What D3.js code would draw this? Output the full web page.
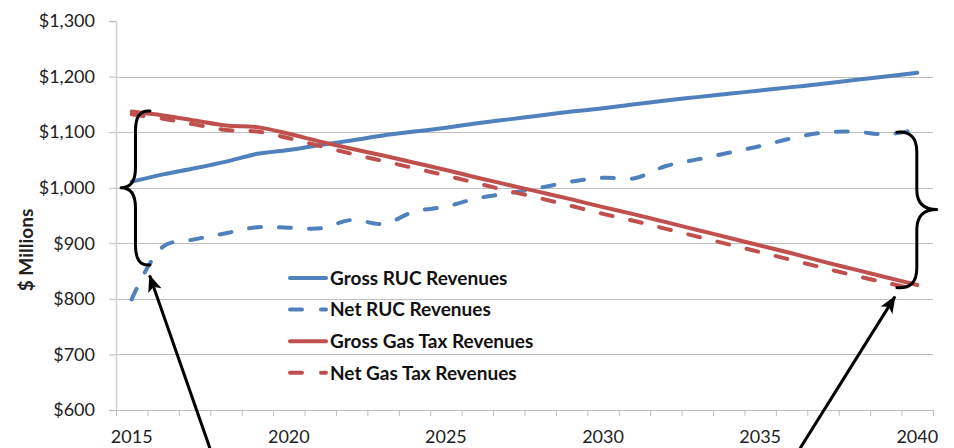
<!DOCTYPE html>
<html>
<head>
<meta charset="utf-8">
<script src="https://cdn.jsdelivr.net/npm/d3@7"></script>
<style>
    body { margin: 0; background: #fff; }
    svg { display: block; font-family: Lato, "Open Sans", sans-serif; }
</style>
</head>
<body>
<svg id="chart" width="954" height="448"></svg>
<script>
// data ($ millions)
const years = [2015, 2016, 2017, 2018, 2019, 2020, 2021, 2022, 2023, 2024, 2025, 2026, 2027,
    2028, 2029, 2030, 2031, 2032, 2033, 2034, 2035, 2036, 2037, 2038, 2039, 2040]
const grossRuc = [1011, 1024, 1035, 1047, 1061, 1068, 1077, 1085, 1094, 1101, 1108, 1116, 1123,
    1130, 1137, 1143, 1150, 1157, 1163, 1169, 1175, 1181, 1187, 1194, 1200, 1207]
const netRuc = [799, 894, 907, 918, 929, 928, 927, 942, 935, 957, 966, 981, 990,
    1000, 1011, 1018, 1017, 1039, 1051, 1063, 1075, 1089, 1099, 1101, 1096, 1105]
const grossGas = [1137, 1130, 1121, 1112, 1109, 1097, 1083, 1070, 1058, 1045, 1032, 1018, 1005,
    992, 979, 965, 952, 938, 924, 910, 896, 882, 867, 853, 839, 825]
const netGas = [1132, 1124, 1114, 1104, 1101, 1089, 1075, 1061, 1048, 1035, 1022, 1008, 994,
    981, 967, 953, 940, 926, 912, 898, 884, 870, 856, 842, 829, 817]

const seriesNames = ['Gross RUC Revenues', 'Net RUC Revenues', 'Gross Gas Tax Revenues', 'Net Gas Tax Revenues']
const yTicks = [600, 700, 800, 900, 1000, 1100, 1200, 1300]
const xLabels = [2015, 2020, 2025, 2030, 2035, 2040]

// annotations, in data units (year, $M)
const braces = [
    { end: 2015.58, tip: 2014.66, top: 1138, mid: 1000, bottom: 861 },
    { end: 2039.35, tip: 2040.62, top: 1100, mid: 961, bottom: 820 }
]
const arrows = [
    { from: [2017.49, 531], to: [2015.57, 842] },
    { from: [2036.27, 531], to: [2039.29, 804] }
]

const blue = '#4F81BD'
const red = '#C0504D'
const series = [
    { name: seriesNames[0], values: grossRuc, color: blue, dash: null },
    { name: seriesNames[1], values: netRuc, color: blue, dash: '12,18' },
    { name: seriesNames[2], values: grossGas, color: red, dash: null },
    { name: seriesNames[3], values: netGas, color: red, dash: '12,18' }
]

const x = d3.scaleLinear().domain([years[0] - 0.5, years[years.length - 1] + 0.5]).range([116, 933])
const y = d3.scaleLinear().domain([600, 1300]).range([410, 21])

const svg = d3.select('#chart')

// gridlines
svg.append('g')
    .selectAll('line')
    .data(yTicks.filter(d => d > 600 && d < 1300))
    .join('line')
    .attr('x1', x.range()[0]).attr('x2', x.range()[1])
    .attr('y1', d => Math.round(y(d)) + 0.5).attr('y2', d => Math.round(y(d)) + 0.5)
    .attr('stroke', '#BFBFBF')

// y axis
const yAxis = svg.append('g')
    .attr('transform', `translate(${x.range()[0]},0)`)
    .call(d3.axisLeft(y).tickValues(yTicks).tickSize(7).tickPadding(14).tickFormat(d3.format('$,')))
yAxis.select('.domain').attr('stroke', '#D0D0D0').attr('stroke-width', 1.5)
yAxis.selectAll('.tick line').attr('stroke', '#BFBFBF')
yAxis.selectAll('.tick text').attr('font-size', 18).attr('fill', '#222').attr('font-family', 'Lato, sans-serif')

// x axis: ticks between categories, labels every 5 years
const boundaries = years.map(d => d - 0.5).concat([years[years.length - 1] + 0.5])
const xAxis = svg.append('g')
    .attr('transform', `translate(0,${y(600)})`)
    .call(d3.axisBottom(x).tickValues(boundaries).tickSize(6).tickFormat(''))
xAxis.select('.domain').attr('stroke', '#BFBFBF')
xAxis.selectAll('.tick line').attr('stroke', '#BFBFBF')

svg.append('g')
    .selectAll('text')
    .data(xLabels)
    .join('text')
    .attr('x', d => x(d))
    .attr('y', 443)
    .attr('text-anchor', 'middle')
    .attr('font-size', 18)
    .attr('fill', '#222')
    .text(d => d)

// y title
svg.append('text')
    .attr('transform', 'translate(33,250) rotate(-90)')
    .attr('text-anchor', 'middle')
    .attr('font-size', 19)
    .attr('font-weight', 'bold')
    .attr('fill', '#222')
    .text('$ Millions')

// series lines
const line = d3.line()
    .x((d, i) => x(years[i]))
    .y(d => y(d))
    .curve(d3.curveCatmullRom.alpha(0.5))

svg.append('g')
    .selectAll('path')
    .data(series)
    .join('path')
    .attr('d', d => line(d.values))
    .attr('fill', 'none')
    .attr('stroke', d => d.color)
    .attr('stroke-width', 4)
    .attr('stroke-linecap', 'round')
    .attr('stroke-linejoin', 'round')
    .attr('stroke-dasharray', d => d.dash)

// legend
const legend = svg.append('g')
    .selectAll('g')
    .data(series)
    .join('g')
    .attr('transform', (d, i) => `translate(290,${278 + i * 31.6})`)

legend.append('line')
    .attr('x1', 0).attr('x2', 36)
    .attr('stroke', d => d.color)
    .attr('stroke-width', 4)
    .attr('stroke-linecap', 'round')
    .attr('stroke-dasharray', d => d.dash ? '12,19' : null)

legend.append('text')
    .attr('x', 40)
    .attr('dy', '0.36em')
    .attr('font-size', 19)
    .attr('font-weight', 'bold')
    .attr('fill', '#111')
    .text(d => d.name)

// braces
function bracePath(b) {
    const xe = x(b.end), xt = x(b.tip)
    const xs = (xe + xt) / 2
    const yt = y(b.top), ym = y(b.mid), yb = y(b.bottom)
    const r = 20
    return `M${xe},${yt} C${xs + (xe - xs) * 0.3},${yt - 1} ${xs},${yt + r * 0.3} ${xs},${yt + r}
        L${xs},${ym - r} C${xs},${ym - r * 0.35} ${xs + (xt - xs) * 0.3},${ym} ${xt},${ym}
        C${xs + (xt - xs) * 0.3},${ym} ${xs},${ym + r * 0.35} ${xs},${ym + r}
        L${xs},${yb - r} C${xs},${yb - r * 0.3} ${xs + (xe - xs) * 0.3},${yb + 1} ${xe},${yb}`
}

svg.append('g')
    .selectAll('path')
    .data(braces)
    .join('path')
    .attr('d', bracePath)
    .attr('fill', 'none')
    .attr('stroke', '#000')
    .attr('stroke-width', 3)
    .attr('stroke-linecap', 'round')
    .attr('stroke-linejoin', 'round')

// arrows
svg.append('defs').append('marker')
    .attr('id', 'arrowhead')
    .attr('viewBox', '0 -7 17 14')
    .attr('refX', 16)
    .attr('refY', 0)
    .attr('markerWidth', 17)
    .attr('markerHeight', 14)
    .attr('markerUnits', 'userSpaceOnUse')
    .attr('orient', 'auto')
    .append('path')
    .attr('d', 'M0,-7L17,0L0,7L4,0Z')
    .attr('fill', '#000')

svg.append('g')
    .selectAll('line')
    .data(arrows)
    .join('line')
    .attr('x1', d => x(d.from[0])).attr('y1', d => y(d.from[1]))
    .attr('x2', d => x(d.to[0])).attr('y2', d => y(d.to[1]))
    .attr('stroke', '#000')
    .attr('stroke-width', 3)
    .attr('marker-end', 'url(#arrowhead)')
</script>
</body>
</html>
